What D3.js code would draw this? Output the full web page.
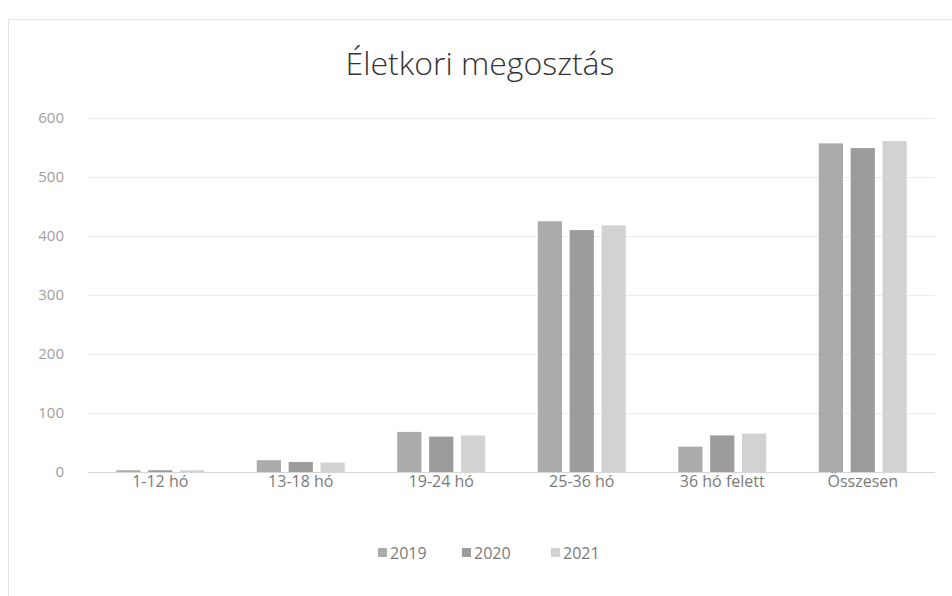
<!DOCTYPE html>
<html><head><meta charset="utf-8">
<script src="https://cdn.jsdelivr.net/npm/d3@7"></script>
<style>html,body{margin:0;padding:0;background:#fff;}svg{display:block;}</style>
</head><body>
<svg id="c" width="952" height="596"></svg>
<script>
const categories = ["1-12 hó","13-18 hó","19-24 hó","25-36 hó","36 hó felett","Összesen"];
const seriesNames = ["2019","2020","2021"];
const values2019 = [3,20,68,425,43,557];
const values2020 = [3,17,60,410,62,549];
const values2021 = [3,16,62,418,65,561];
const yTicks = [0,100,200,300,400,500,600];
const title = "Életkori megosztás";
const colors = ["#ababab","#9c9c9c","#d2d2d2"];

const series = [values2019, values2020, values2021];
const svg = d3.select("#c");
const font = "'Open Sans', 'Liberation Sans', sans-serif";

// chart border
svg.append("rect").attr("x",8.5).attr("y",19.5).attr("width",960).attr("height",600)
  .attr("fill","#fff").attr("stroke","#e2e2e2");

const groupW = 88;
const x0 = d3.scaleBand().domain(categories).range([90,933]).paddingInner(0).paddingOuter(0);
const x1 = d3.scaleBand().domain(seriesNames).range([0,groupW]).paddingInner(0.24);
const y = d3.scaleLinear().domain([0,600]).range([472,118]);

// gridlines
svg.append("g").selectAll("line").data(yTicks).join("line")
  .attr("x1",88).attr("x2",935)
  .attr("y1",d=>y(d)+0.5).attr("y2",d=>y(d)+0.5)
  .attr("stroke",d=>d===0?"#d6d6d6":"#ececec").attr("stroke-width",1);

// y axis labels
const yAxis = d3.axisLeft(y).tickValues(yTicks).tickSize(0).tickPadding(0);
const gy = svg.append("g").attr("transform","translate(64,0)").call(yAxis);
gy.select(".domain").remove();
gy.selectAll("text").attr("font-family",font).attr("font-size",15).attr("fill","#a0a0a0");

// bars
const groups = svg.append("g").selectAll("g").data(categories).join("g")
  .attr("transform",d=>`translate(${x0(d)+(x0.bandwidth()-groupW)/2},0)`);
groups.selectAll("rect").data((d,i)=>series.map((s,j)=>({name:seriesNames[j],v:s[i],c:colors[j]})))
  .join("rect")
  .attr("x",d=>x1(d.name)).attr("width",x1.bandwidth())
  .attr("y",d=>y(d.v)).attr("height",d=>y(0)-y(d.v))
  .attr("fill",d=>d.c);

// x axis labels
const xAxis = d3.axisBottom(x0).tickSize(0).tickPadding(0);
const gx = svg.append("g").attr("transform","translate(0,476)").call(xAxis);
gx.select(".domain").remove();
gx.selectAll("text").attr("font-family",font).attr("font-size",16).attr("fill","#7a7a7a");

// title
svg.append("text").attr("x",480).attr("y",75).attr("text-anchor","middle")
  .attr("font-family",font).attr("font-weight",300).attr("font-size",32).attr("fill","#333")
  .text(title);

// legend
const legX = [378,462,551];
const leg = svg.append("g").selectAll("g").data(seriesNames).join("g")
  .attr("transform",(d,i)=>`translate(${legX[i]},553)`);
leg.append("rect").attr("x",0).attr("y",-5).attr("width",9).attr("height",9).attr("fill",(d,i)=>colors[i]);
leg.append("text").attr("x",12).attr("y",0).attr("dy","0.35em")
  .attr("font-family",font).attr("font-size",16).attr("fill","#7a7a7a").text(d=>d);
</script>
</body></html>
